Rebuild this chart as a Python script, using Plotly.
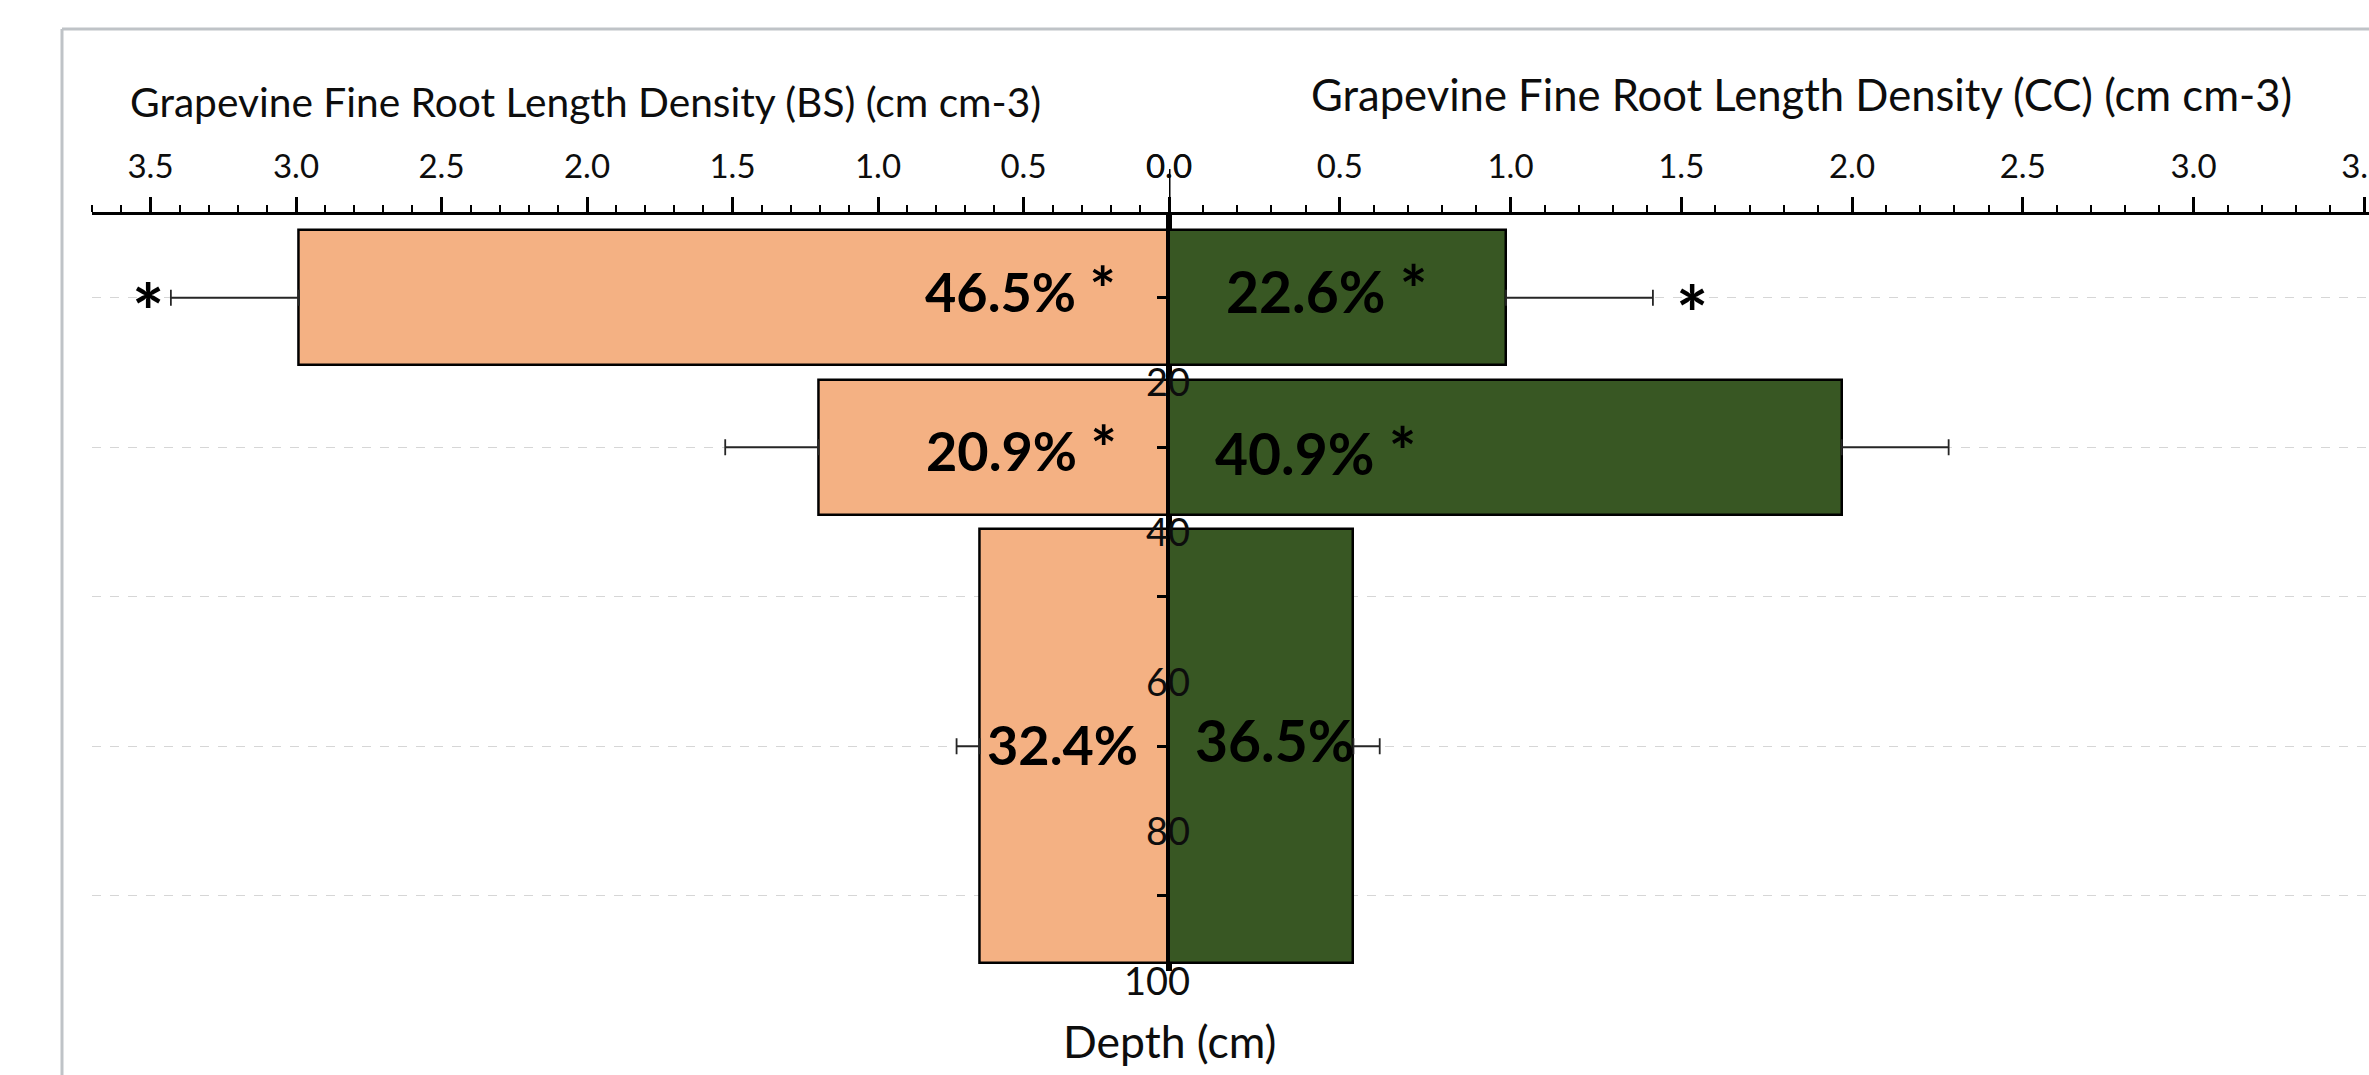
import plotly.graph_objects as go

# ---------------- data ----------------
depth_top = [0, 20, 40]
depth_bottom = [20, 40, 100]
bs_values = [2.99, 1.205, 0.65]      # BS fine root length density (cm cm-3)
bs_errors = [0.44, 0.32, 0.08]
cc_values = [0.987, 1.97, 0.54]      # CC fine root length density (cm cm-3)
cc_errors = [0.43, 0.313, 0.077]
bs_labels = ["46.5%", "20.9%", "32.4%"]
cc_labels = ["22.6%", "40.9%", "36.5%"]
bs_label_sig = [True, True, False]
cc_label_sig = [True, True, False]
bs_signif = ["*", "", ""]
cc_signif = ["*", "", ""]
x_ticks = [0.0, 0.5, 1.0, 1.5, 2.0, 2.5, 3.0, 3.5]
x_ticktext = ["0.0", "0.5", "1.0", "1.5", "2.0", "2.5", "3.0", "3.5"]
depth_ticks = [20, 40, 60, 80, 100]
grid_depths = [10, 30, 50, 70, 90]

title_bs = "Grapevine Fine Root Length Density (BS) (cm cm-3)"
title_cc = "Grapevine Fine Root Length Density (CC) (cm cm-3)"
title_depth = "Depth (cm)"

# ---------------- styling / layout constants ----------------
OX, OY = 0, 0
FW, FH = 2369, 1075
FONT = "Lato"
CX = 1169            # page px of the central axis
LEFT_PX = 91.7
L_SCALE = 291.0      # px per unit, left axis
R_SCALE = 341.5      # px per unit, right axis
PEACH = "#F4B183"
GREEN = "#385723"
BAR_GAP = 2.0
TOP_PX, BOT_PX = 215, 970.5
DEPTH0_PX = 223


def px_x(px):
    return (px - OX) / FW


def px_y(py):
    return 1 - (py - OY) / FH


bs_label_shift = [(-51, 10), (-50, 0), (-29, 2)]
cc_label_shift = [(55, 10), (44, -3), (24, 6)]
bs_sig_shift = -23
cc_sig_shift = 39

centers = [(t + b) / 2 for t, b in zip(depth_top, depth_bottom)]
widths = [(b - t) - BAR_GAP for t, b in zip(depth_top, depth_bottom)]

fig = go.Figure()

fig.add_trace(go.Bar(
    x=bs_values, y=centers, width=widths, orientation="h",
    xaxis="x", yaxis="y",
    marker=dict(color=PEACH, line=dict(color="black", width=2.5)),
    error_x=dict(type="data", array=bs_errors, arrayminus=[0] * len(bs_errors),
                 symmetric=False, color="#262626", thickness=1.8, width=8),
    hoverinfo="skip", showlegend=False,
))
fig.add_trace(go.Bar(
    x=cc_values, y=centers, width=widths, orientation="h",
    xaxis="x2", yaxis="y2",
    marker=dict(color=GREEN, line=dict(color="black", width=2.5)),
    error_x=dict(type="data", array=cc_errors, arrayminus=[0] * len(cc_errors),
                 symmetric=False, color="#262626", thickness=1.8, width=8),
    hoverinfo="skip", showlegend=False,
))

px_per_cm = (BOT_PX - DEPTH0_PX) / 100.0
ydom = [px_y(BOT_PX), px_y(TOP_PX)]
yrange = [100, (TOP_PX - DEPTH0_PX) / px_per_cm]
right_end_px = OX + FW
left_range = (CX - LEFT_PX) / L_SCALE
right_range = (right_end_px - CX) / R_SCALE

common_x = dict(
    side="top", showline=True, linecolor="black", linewidth=3,
    ticks="outside", ticklen=15, tickwidth=2.5, tickcolor="black",
    tickvals=x_ticks, ticktext=x_ticktext,
    tickfont=dict(family=FONT, size=33, color="#0d0d0d"),
    showgrid=False, zeroline=False, ticklabelstandoff=6,
    ticklabeloverflow="allow",
    minor=dict(ticks="outside", ticklen=7, tickwidth=2, tickcolor="black",
               dtick=0.1, tick0=0, showgrid=False),
    fixedrange=True, automargin=False,
)
common_y = dict(
    domain=ydom, range=yrange, showline=True, linecolor="black", linewidth=3,
    ticks="outside", ticklen=9, tickwidth=2.5, tickcolor="black",
    tickvals=grid_depths, showticklabels=False,
    showgrid=True, gridcolor="#d6d6d6", griddash="dash", gridwidth=1.3,
    zeroline=False, fixedrange=True, automargin=False,
)

fig.update_layout(
    width=FW, height=FH,
    margin=dict(l=0, r=0, t=0, b=0, pad=0, autoexpand=False),
    paper_bgcolor="white", plot_bgcolor="rgba(0,0,0,0)",
    bargap=0, showlegend=False,
    xaxis=dict(domain=[px_x(LEFT_PX), px_x(CX)], range=[left_range, 0], anchor="y", **common_x),
    xaxis2=dict(domain=[px_x(CX), 1], range=[0, right_range], anchor="y2", **common_x),
    yaxis=dict(anchor="x", side="right", **common_y),
    yaxis2=dict(anchor="x2", side="left", **common_y),
)

ann = []
# axis titles
ann.append(dict(text=title_bs, x=px_x(585), y=px_y(101), xref="paper", yref="paper",
                showarrow=False, xanchor="center", yanchor="middle",
                font=dict(family=FONT, size=40.7, color="#0d0d0d")))
ann.append(dict(text=title_cc, x=px_x(1801), y=px_y(94), xref="paper", yref="paper",
                showarrow=False, xanchor="center", yanchor="middle",
                font=dict(family=FONT, size=43.6, color="#0d0d0d")))
ann.append(dict(text=title_depth, x=0, xref="x2", y=px_y(1040), yref="paper",
                showarrow=False, xanchor="center", yanchor="middle",
                font=dict(family=FONT, size=44.5, color="#0d0d0d")))
# depth tick labels on the central axis
for d in depth_ticks:
    ann.append(dict(text=str(d), x=0, xref="x2", y=d, yref="y2",
                    showarrow=False, xanchor="right", yanchor="middle",
                    xshift=23, yshift=-9,
                    font=dict(family=FONT, size=38, color="#0d0d0d")))


def label_text(lab, sig, size):
    star = "\u2009\u2009<span style=\"font-size:%dpx\">*</span>" % int(size * 1.15) if sig else ""
    return "<b>%s%s</b>" % (lab, star)


# data labels
for lab, sig, c, (dx, dy) in zip(bs_labels, bs_label_sig, centers, bs_label_shift):
    ann.append(dict(text=label_text(lab, sig, 54), x=0, xref="x", y=c, yref="y",
                    showarrow=False, xanchor="right", yanchor="middle",
                    xshift=dx, yshift=dy,
                    font=dict(family=FONT, size=54, color="black")))
for lab, sig, c, (dx, dy) in zip(cc_labels, cc_label_sig, centers, cc_label_shift):
    ann.append(dict(text=label_text(lab, sig, 57), x=0, xref="x2", y=c, yref="y2",
                    showarrow=False, xanchor="left", yanchor="middle",
                    xshift=dx, yshift=dy,
                    font=dict(family=FONT, size=57, color="black")))
# significance asterisks beyond error bars
for s, v, e, c in zip(bs_signif, bs_values, bs_errors, centers):
    if s:
        ann.append(dict(text="<b>%s</b>" % s, x=v + e, xref="x", y=c, yref="y",
                        showarrow=False, xanchor="center", yanchor="middle",
                        xshift=bs_sig_shift, yshift=-13,
                        font=dict(family=FONT, size=76, color="black")))
for s, v, e, c in zip(cc_signif, cc_values, cc_errors, centers):
    if s:
        ann.append(dict(text="<b>%s</b>" % s, x=v + e, xref="x2", y=c, yref="y2",
                        showarrow=False, xanchor="center", yanchor="middle",
                        xshift=cc_sig_shift, yshift=-15,
                        font=dict(family=FONT, size=76, color="black")))
fig.update_layout(annotations=ann)

# chart border and the central axis extension above the top axis
fig.update_layout(shapes=[
    dict(type="line", xref="paper", yref="paper", x0=px_x(62), x1=1,
         y0=px_y(29), y1=px_y(29), line=dict(color="#bfc3c7", width=3)),
    dict(type="line", xref="paper", yref="paper", x0=px_x(62), x1=px_x(62),
         y0=0, y1=px_y(29), line=dict(color="#bfc3c7", width=3)),
    dict(type="line", xref="x2", yref="paper", x0=0, x1=0,
         y0=px_y(TOP_PX), y1=px_y(169), line=dict(color="black", width=3)),
])

fig.write_html("out.html", config={"displayModeBar": False},
               post_script="document.body.style.margin='0';document.body.style.overflow='hidden';")
